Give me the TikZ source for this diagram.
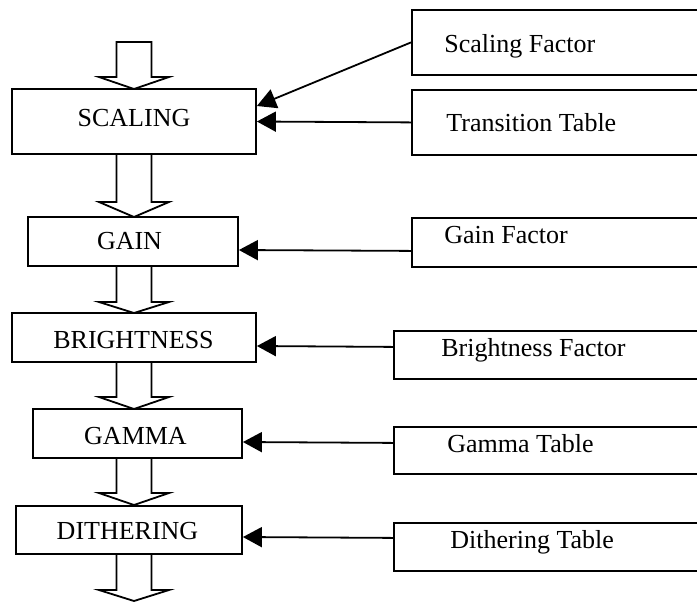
\documentclass[tikz,border=0pt]{standalone}
\usepackage{fontspec}
\setmainfont{Liberation Serif}
\usetikzlibrary{arrows.meta}
\tikzset{
  lbox/.style={draw, line width=0.9pt, inner sep=0pt, minimum width=#1},
  rbox/.style={draw, line width=0.9pt, inner sep=0pt, anchor=north west, minimum width=160pt},
  lbl/.style={inner sep=0pt, anchor=base, font=\fontsize{13pt}{15pt}\selectfont},
  rlbl/.style={inner sep=0pt, anchor=base west, font=\fontsize{13pt}{15pt}\selectfont},
  conn/.style={line width=0.9pt, -{Triangle[length=9.5pt,width=10pt]}},
  blk/.style={draw, line width=0.9pt, line join=miter}
}
\newcommand{\blockarrow}[3]{%
  \draw[blk] (116.5,#1) -- (116.5,#2) -- (99,#2) -- (134,#3) -- (169,#2) -- (151.5,#2) -- (151.5,#1) -- cycle;}
\begin{document}
\begin{tikzpicture}[x=0.5pt,y=-0.5pt]
\useasboundingbox (0,0) rectangle (697,602);
\clip (0,0) rectangle (697,602);
% left processing boxes
\node[lbox=122pt, minimum height=32.5pt] (scal) at (134,121.5) {};
\node[lbox=105pt, minimum height=24.5pt] (gain) at (133,241.5) {};
\node[lbox=122pt, minimum height=24.5pt] (bright) at (134,337.5) {};
\node[lbox=104.5pt, minimum height=24.5pt] (gamma) at (137.5,433.5) {};
\node[lbox=113pt, minimum height=24pt] (dith) at (129,530) {};
\node[lbl] (scalT) at (134,126) {SCALING};
\node[lbl] (gainT) at (129.5,249) {GAIN};
\node[lbl] (brightT) at (133.5,348) {BRIGHTNESS};
\node[lbl] (gammaT) at (135.5,444) {GAMMA};
\node[lbl] (dithT) at (127.5,539) {DITHERING};
% right parameter boxes
\node[rbox, minimum height=32.5pt] (sf) at (411,9) {};
\node[rbox, minimum height=32.5pt] (tt) at (411,89) {};
\node[rbox, minimum height=24.5pt] (gf) at (411,217) {};
\node[rbox, minimum height=24pt] (bf) at (393,330) {};
\node[rbox, minimum height=23.5pt] (gt) at (393,426) {};
\node[rbox, minimum height=24pt] (dt) at (393,522) {};
\node[rlbl] (sfT) at (444,52) {Scaling Factor};
\node[rlbl] (ttT) at (446,131) {Transition Table};
\node[rlbl] (gfT) at (444,243) {Gain Factor};
\node[rlbl] (bfT) at (441,356) {Brightness Factor};
\node[rlbl] (gtT) at (447,452) {Gamma Table};
\node[rlbl] (dtT) at (450,548) {Dithering Table};
% connectors
\draw[conn] (sf.west) -- ([yshift=7.75pt]scal.east);
\draw[conn] (tt.west) -- (scal.east);
\draw[conn] ([yshift=-4.25pt]gf.west) -- ([yshift=-4.25pt]gain.east);
\draw[conn] ([yshift=4pt]bf.west) -- ([yshift=-4.25pt]bright.east);
\draw[conn] ([yshift=3.75pt]gt.west) -- ([yshift=-4.25pt]gamma.east);
\draw[conn] ([yshift=4.5pt]dt.west) -- ([yshift=-3.5pt]dith.east);
% block arrows
\blockarrow{42}{77}{89}
\blockarrow{154}{202}{217}
\blockarrow{266}{302}{313}
\blockarrow{362}{397}{409}
\blockarrow{458}{493}{505}
\blockarrow{554}{590}{601}
\end{tikzpicture}
\end{document}
